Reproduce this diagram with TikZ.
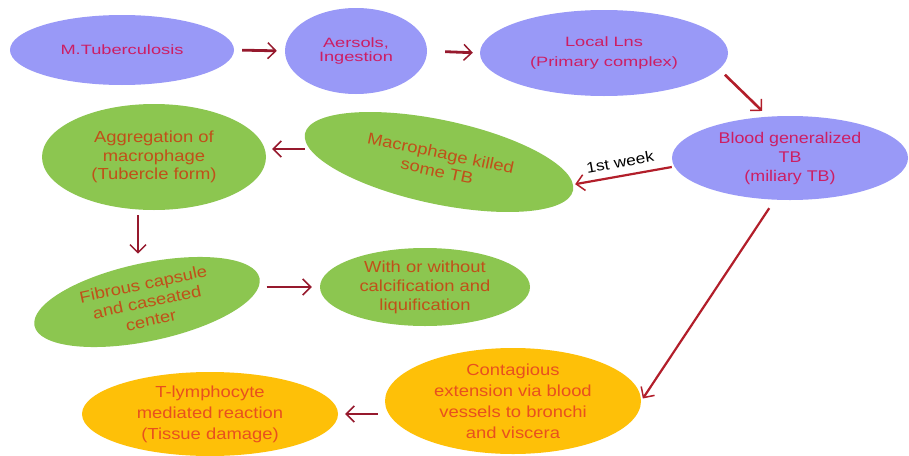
\documentclass[tikz,border=0pt]{standalone}
\usepackage{fontspec}
\setmainfont{Liberation Sans}[FakeStretch=1.15]
\newfontfamily\widefont{Liberation Sans}[FakeStretch=1.35]
\usetikzlibrary{shapes.geometric,arrows.meta,calc}
\definecolor{bluefill}{RGB}{153,153,247}
\definecolor{bluetext}{RGB}{204,30,100}
\definecolor{greenfill}{RGB}{140,198,80}
\definecolor{greentext}{RGB}{192,80,25}
\definecolor{orangefill}{RGB}{254,192,8}
\definecolor{orangetext}{RGB}{232,80,30}
\definecolor{arrred}{RGB}{150,25,45}
\definecolor{arrred2}{RGB}{178,30,42}
\newcommand\fwide[2]{\widefont\fontsize{#1}{#2}\selectfont}
\newcommand\fmain[2]{\fontsize{#1}{#2}\selectfont}
\begin{document}
\begin{tikzpicture}[x=1pt,y=-1pt,
  bub/.style={ellipse, inner sep=-2pt, align=center},
  bluebub/.style={bub, fill=bluefill, text=bluetext},
  greenbub/.style={bub, fill=greenfill, text=greentext, font=\fmain{16}{18.5}},
  orangebub/.style={bub, fill=orangefill, text=orangetext, font=\fmain{16}{21}},
  arr/.style={draw=arrred, line width=2.8pt, -{Straight Barb[length=8pt,width=16pt,line width=1.5pt]}},
  longarr/.style={draw=arrred2, line width=2.2pt, -{Straight Barb[length=8pt,width=16pt,line width=1.5pt]}}
]
\useasboundingbox (0,0) rectangle (909,455);
\fill[white] (0,0) rectangle (909,455);

\node[bluebub, minimum width=224pt, minimum height=70pt, font=\fwide{13.5}{15}] (mtb) at (122,50) {M.Tuberculosis};
\node[bluebub, minimum width=142pt, minimum height=86pt, font=\fwide{13.5}{14.5}] (aer) at (356,51) {Aersols,\\Ingestion};
\node[bluebub, minimum width=248pt, minimum height=86pt, font=\fwide{13.5}{20}] (lns) at (604,53) {Local Lns\\(Primary complex)};
\node[bluebub, minimum width=236pt, minimum height=84pt, font=\fmain{15.5}{19}] (blood) at (790,158) {Blood generalized\\TB\\(miliary TB)};
\node[greenbub, minimum width=274pt, minimum height=84pt, rotate=-12] (kill) at (439,162) {Macrophage killed\\some TB};
\node[greenbub, minimum width=224pt, minimum height=106pt] (agg) at (154,157) {Aggregation of\\macrophage\\(Tubercle form)};
\node[greenbub, minimum width=230pt, minimum height=78pt, rotate=12] (fib) at (147,302) {Fibrous capsule\\and caseated\\center};
\node[greenbub, minimum width=210pt, minimum height=78pt, font=\fmain{16}{19}] (wwo) at (425,287) {With or without\\calcification and\\liquification};
\node[orangebub, minimum width=256pt, minimum height=106pt] (cont) at (513,401) {Contagious\\extension via blood\\vessels to bronchi\\and viscera};
\node[orangebub, minimum width=256pt, minimum height=84pt] (tly) at (210,414) {T-lymphocyte\\mediated reaction\\(Tissue damage)};

\draw[arr, shorten <=8pt, shorten >=8pt] (mtb.east) -- (aer.west);
\draw[arr, shorten <=18pt, shorten >=7pt] (aer.east) -- (lns.west);
\draw[longarr, line width=2.6pt, shorten <=8pt, shorten >=8pt] (lns.-8) -- (blood.118);
\draw[longarr, shorten >=2pt] ($(blood.west)+(0,9)$) -- ($(kill.east)+(0,-6)$)
  node[midway, above=4pt, sloped, text=black, font=\fmain{15}{15}] {1st week};
\draw[arr, shorten >=6pt] ($(agg.east -| kill.west)+(0,-8)$) -- ($(agg.east)+(0,-8)$);
\draw[arr, shorten <=5pt] ($(agg.south)+(-16,0)$) -- ($(agg.south |- fib.north)+(-16,-10)$);
\draw[arr, shorten <=7pt, shorten >=8pt] (wwo.west -| fib.east) -- (wwo.west);
\draw[longarr, shorten <=10pt, shorten >=3pt] (blood.250) -- (cont.east);
\draw[arr, line width=2.4pt, shorten <=7pt, shorten >=7pt] (cont.west |- tly.east) -- (tly.east);
\end{tikzpicture}
\end{document}
